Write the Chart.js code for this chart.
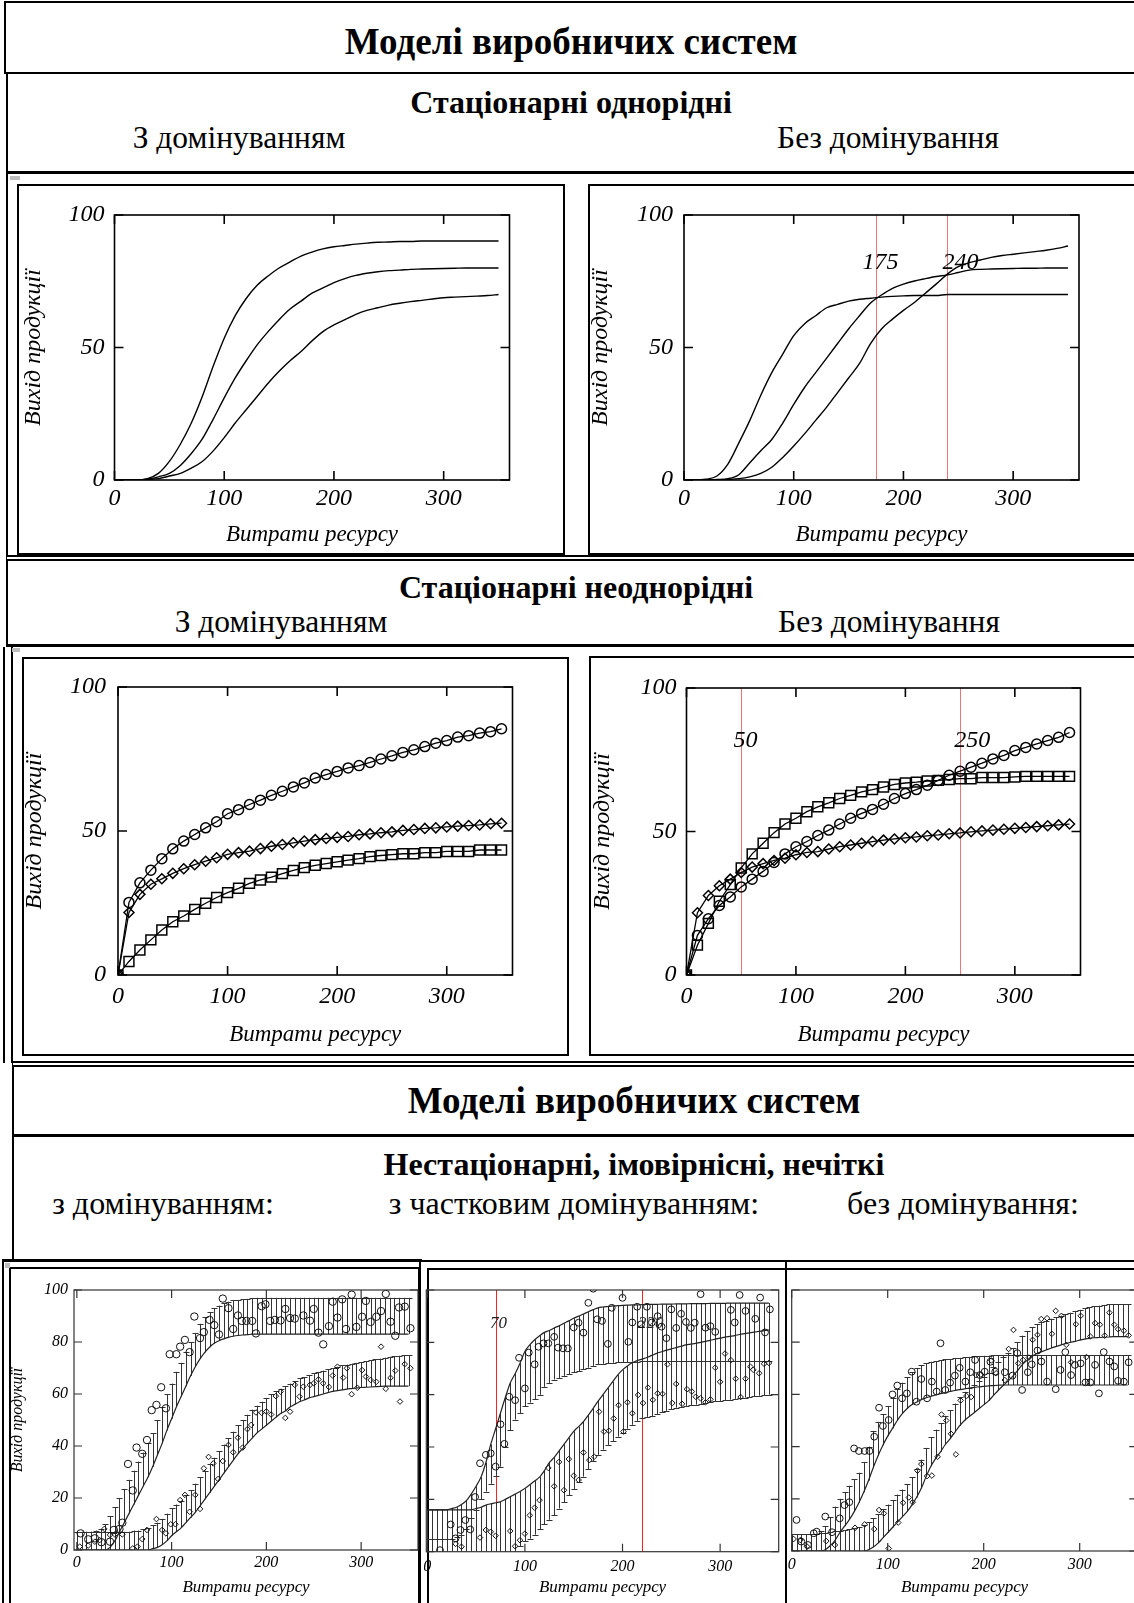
<!DOCTYPE html>
<html lang="uk">
<head>
<meta charset="utf-8">
<title>Моделі виробничих систем</title>
<script src="https://cdn.jsdelivr.net/npm/chart.js@4.4.0/dist/chart.umd.min.js"></script>
<style>
  html, body { margin: 0; padding: 0; width: 1134px; height: 1603px; overflow: hidden; background: #fff; }
  body { position: relative; font-family: 'Liberation Serif', 'Times New Roman', serif; color: #000; }
  .box { position: absolute; box-sizing: border-box; border: 0 solid #000; }
  .txt { position: absolute; white-space: nowrap; line-height: 1; transform: translateX(-50%); }
  .b { font-weight: bold; }
  .mark { position: absolute; background: #bdbdbd; }
  canvas { position: absolute; }
</style>
</head>
<body>

<!-- header frames -->
<div class="box" style="left:4px;top:1px;width:1200px;height:73px;border-width:2px;"></div>
<div class="box" style="left:6px;top:73px;width:1200px;height:101px;border-left-width:2px;border-bottom-width:3px;"></div>
<div class="box" style="left:6px;top:174px;width:4px;height:382px;border-left-width:2px;"></div>
<div class="box" style="left:17px;top:184px;width:548px;height:371px;border-width:2px;"></div>
<div class="box" style="left:588px;top:184px;width:600px;height:371px;border-width:2px;"></div>

<div class="box" style="left:6px;top:555px;width:1200px;height:92px;border-top:6px double #000;border-left-width:2px;border-bottom-width:3px;"></div>
<div class="box" style="left:3px;top:647px;width:10px;height:416px;border-left-width:2px;border-right-width:2px;"></div>
<div class="box" style="left:22px;top:657px;width:547px;height:399px;border-width:2px;"></div>
<div class="box" style="left:589px;top:656px;width:600px;height:400px;border-width:2px;"></div>

<div class="box" style="left:12px;top:1061px;width:1200px;height:76px;border-top:6px double #000;border-left-width:2px;border-bottom-width:3px;"></div>
<div class="box" style="left:12px;top:1137px;width:4px;height:123px;border-left-width:2px;"></div>

<div class="box" style="left:2px;top:1259px;width:420px;height:400px;border-top-width:3px;border-left-width:2px;"></div>
<div class="box" style="left:9px;top:1267px;width:411px;height:400px;border-top-width:2px;border-left-width:2px;border-right-width:2px;"></div>
<div class="box" style="left:419px;top:1260px;width:370px;height:400px;border-top-width:2px;border-left-width:2px;"></div>
<div class="box" style="left:427px;top:1268px;width:360px;height:400px;border-top-width:2px;border-left-width:2px;border-right-width:2px;"></div>
<div class="box" style="left:785px;top:1260px;width:400px;height:400px;border-top-width:2px;border-left-width:2px;"></div>
<div class="box" style="left:785px;top:1268px;width:400px;height:2px;border-top-width:2px;"></div>

<div class="mark" style="left:10px;top:176px;width:10px;height:4px;"></div>
<div class="mark" style="left:12px;top:648px;width:8px;height:4px;"></div>
<div class="mark" style="left:5px;top:1263px;width:5px;height:5px;"></div>

<!-- headings -->
<div class="txt b" style="left:571px;top:23px;font-size:37px;">Моделі виробничих систем</div>
<div class="txt b" style="left:571px;top:86px;font-size:32px;">Стаціонарні однорідні</div>
<div class="txt" style="left:239px;top:122px;font-size:31.5px;">З домінуванням</div>
<div class="txt" style="left:888px;top:122px;font-size:31.5px;">Без домінування</div>

<div class="txt b" style="left:576px;top:571px;font-size:32px;">Стаціонарні неоднорідні</div>
<div class="txt" style="left:281px;top:606px;font-size:31.5px;">З домінуванням</div>
<div class="txt" style="left:889px;top:606px;font-size:31.5px;">Без домінування</div>

<div class="txt b" style="left:634px;top:1082px;font-size:37px;">Моделі виробничих систем</div>
<div class="txt b" style="left:634px;top:1148px;font-size:32px;">Нестаціонарні, імовірнісні, нечіткі</div>
<div class="txt" style="left:163px;top:1187px;font-size:32px;">з домінуванням:</div>
<div class="txt" style="left:574px;top:1187px;font-size:32px;">з частковим домінуванням:</div>
<div class="txt" style="left:963px;top:1187px;font-size:32px;">без домінування:</div>

<canvas id="homDom" width="543" height="366" style="left:20px;top:186px;"></canvas>
<canvas id="homFree" width="551" height="366" style="left:586px;top:186px;"></canvas>
<canvas id="hetDom" width="549" height="396" style="left:20px;top:659px;"></canvas>
<canvas id="hetFree" width="550" height="396" style="left:588px;top:659px;"></canvas>
<canvas id="stochDom" width="418" height="335" style="left:4px;top:1268px;"></canvas>
<canvas id="stochPart" width="360" height="335" style="left:424px;top:1268px;"></canvas>
<canvas id="stochFree" width="360" height="335" style="left:788px;top:1268px;"></canvas>

<script>
const serif = "'Liberation Serif', 'Times New Roman', serif";
Chart.defaults.font.family = serif;
Chart.defaults.color = '#000';

// ---- stationary homogeneous: resource spent vs output ----
const resX = [0,10,20,30,40,50,60,70,80,90,100,110,120,130,140,150,160,170,180,190,200,210,220,230,240,250,260,270,280,290,300,310,320,330,340,350];

const homDomHigh = [0,0,0,0.5,2.5,7,13.5,21.5,31.5,43,53.5,62,68.5,73.5,77,80,82.3,84.5,86,87.2,88,88.5,89,89.4,89.7,89.8,90,90,90.2,90.2,90.2,90.2,90.2,90.2,90.2,90.2];
const homDomMid  = [0,0,0,0.3,1.2,2.5,5.5,10,15.5,23,31,38.5,45,51,56,60.5,64.5,67.5,70.5,72.5,74.5,76,77.2,78,78.6,79,79.2,79.5,79.6,79.7,79.8,79.9,80,80,80,80];
const homDomLow  = [0,0,0,0.2,0.5,1.5,2.5,4.5,7,11,16,21.5,26.5,31.5,36.5,41,45,48.5,52.5,56,58.5,60.5,62.5,64,65,66,66.7,67.3,67.8,68.3,68.8,69,69.2,69.4,69.6,70];

const homFreeFast = [0,0,0.3,1.5,6,14,22.5,32,40.5,47.5,54.5,59,62,65,66.3,67.5,68.2,68.6,69,69.3,69.5,69.6,69.6,69.6,70,70,70,70,70,70,70,70,70,70,70,70];
const homFreeMid  = [0,0,0,0.2,0.5,2,6.5,11,15.3,21.5,28.5,35,40.5,46,51.5,57,62,66.8,69.8,72.3,73.9,75.1,76,76.8,77.4,78.3,79.2,79.5,79.6,79.7,79.8,79.9,79.9,80,80,80];
const homFreeSlow = [0,0,0,0,0.2,0.5,1.2,2.5,4.8,8.5,12.8,17.5,22.5,27.5,33,38.5,44,51.5,57,60.7,64,67,70.5,74,77.7,80.5,82,83,84,84.7,85.2,85.7,86.2,86.7,87.4,88.3];
const homFreeCross = [175, 240];
const homFreeLabelX = [179, 252];
const homFreeLabelY = 82;

// ---- stationary heterogeneous ----
const hetDomCircle  = [0,25.2,32,36.4,40.4,43.8,46.5,48.8,51.1,53.2,56,57.4,59.2,60.7,62.4,63.8,65.3,66.7,68.4,69.6,70.7,71.9,72.7,73.8,75,76.1,77.3,78.2,79.3,80.5,81.4,82.6,83.1,84,84.5,85.5];
const hetDomDiamond = [0,21.7,28,31.5,33.4,35.3,36.9,38.3,39.5,40.7,41.9,42.5,43,43.9,44.7,45.3,45.9,46.5,47,47.4,47.8,48.1,48.7,49,49.4,49.7,50.2,50.5,50.9,51.1,51.4,51.7,51.9,52.1,52.5,52.7];
const hetDomSquare  = [0,4.7,8.7,12.2,15.6,18.5,20.5,22.8,24.9,26.9,28.6,30.1,31.8,33,34,35.2,36.3,37.3,38.1,38.7,39.3,39.9,40.4,41.1,41.5,41.8,42.1,42.1,42.5,42.5,42.9,42.9,42.9,43.4,43.4,43.4];

const hetFreeCircle  = [0,13.8,19.6,24.2,27.2,30.7,33.4,36.1,39.2,42.2,44.7,46.5,48.6,50.5,52.6,54.6,56.3,57.7,59.5,61.5,63.2,64.6,66.1,67.8,69.6,71,72.4,73.8,75.3,76.5,78.2,79.3,80.5,81.7,82.8,84.5];
const hetFreeSquare  = [0,10.4,18,25.7,31.5,37.3,42.2,45.9,49.6,52.6,54.6,56.9,58.6,60,61.5,62.6,63.8,64.6,65.5,66.4,66.9,67.2,67.6,67.8,68.1,68.4,68.4,68.8,68.8,68.8,69,69.2,69.2,69.2,69.2,69.2];
const hetFreeDiamond = [0,21.7,27.7,31.1,33.4,35.7,37.6,38.8,39.9,40.7,41.9,42.7,43,43.9,44.7,45.3,45.9,46.5,47,47.4,47.8,48.1,48.5,48.8,49.2,49.5,49.9,50.2,50.5,50.8,51.1,51.4,51.7,52,52.3,52.6];
const hetFreeCross = [50, 250];
const hetFreeLabelX = [54, 261];
const hetFreeLabelY = 81.7;

// ---- non-stationary / fuzzy: confidence bands and observations ----
const bandX = [0,5,10,15,20,25,30,35,40,45,50,55,60,65,70,75,80,85,90,95,100,105,110,115,120,125,130,135,140,145,150,155,160,165,170,175,180,185,190,195,200,205,210,215,220,225,230,235,240,245,250,255,260,265,270,275,280,285,290,295,300,305,310,315,320,325,330,335,340,345,350];

const domBand1Hi = [7,7,7,7,7.5,8,10,13,16.5,20,23.5,27,30.5,34,37.5,41,45,50,55,60,64,68.5,72,76,80,83.5,87,89.5,91.5,93,94,95,95.5,96,96.2,96.5,96.6,96.8,97,97,97,97,97,97,97,97,97,97,97,97,97,97,97,97,97,97,97,97,97,97,97,97,97,97,97,97,97,97,97,97,97];
const domBand1Lo = [0,0,0,0,0,0,0,1,3.5,7,10.5,14,17.5,21,24.5,28,32,36.5,41,46,50.5,55,59,63,67,70.5,73.5,76,78,79.5,80.5,81.2,81.8,82.2,82.5,82.7,82.8,83,83,83,83,83,83,83,83,83,83,83,83,83,83,83,83,83,83,83,83,83,83,83,83,83,83,83,83,83,83,83,83,83,83];
const domBand2Hi = [7,7,7,7,7,7,7,7,7,7,7,7,7.5,7.5,8,8.5,9.5,10.5,12,14,16,17.5,19,21,23,25.5,28,30.5,33,35.5,38,40.5,43,45.5,48,50,52,54,55.5,57,58.5,60,61,62,63,64,65,66,66.5,67.3,68,68.5,69,69.5,70,70.5,71,71.3,71.7,72,72.3,72.6,73,73.3,73.6,74,74.3,74.5,74.7,74.9,75];
const domBand2Lo = [0,0,0,0,0,0,0,0,0,0,0,0,0,0,0,0,0.5,1,2,3.5,5.5,7,8.5,10.5,12.5,14.5,17,19.5,22,24.5,27,29.5,32,34.5,37,39,41,43,45,46.5,48,49.5,51,52.5,53.5,55,56,57,57.7,58.5,59,59.5,60,60.5,61,61.3,61.6,61.9,62.1,62.3,62.5,62.6,62.7,62.8,62.9,63,63,63,63,63,63];

const domCircleX = [4,12,19,26,35,39,45,48,54,59,63,69,74,79,84,89,94,98,105,109,114,119,124,130,134,140,145,150,154,160,165,170,174,179,185,189,195,199,204,209,215,220,225,230,239,246,250,255,260,266,270,275,280,284,290,295,301,305,310,316,321,326,331,336,340,346,352];
const domCircleY = [6.4,4.1,4.5,3,3.2,7.7,8.1,10.5,33.1,22.9,39.4,37,42.3,53.8,55.8,62.6,54.5,75.3,75.3,78.2,80.8,76.1,89.8,81.5,83.8,88.5,86.5,82.9,96.7,93,85,90.2,88.1,88.1,88.1,83.3,93.8,94.5,88.1,88.5,88.3,92.7,89.2,89,90.2,88.2,92.7,83.6,79.1,86.1,95.5,89.4,96.4,85,98.2,85.8,89.7,95.8,87.7,89.7,91.9,98.5,87.8,82.4,93.3,93.6,85.3];
const domDiamondX = [3,12,19,24,29,35,40,48,59,64,69,74,84,90,94,99,104,109,114,119,125,130,134,139,144,149,154,160,165,170,175,180,184,189,195,200,205,210,215,220,225,230,235,239,246,250,255,260,266,270,275,281,285,290,296,301,305,310,316,321,326,331,336,341,346,352];
const domDiamondY = [1.3,1.7,3.2,3.8,8.1,5.8,6,6,0.6,1.3,4.2,7.7,11.9,7.7,6.4,9.9,9.9,19.2,21.2,14.7,21.2,15.8,31.4,35.8,33.3,27.3,34.2,40.4,37.6,43.2,39.4,46.5,48.1,52.9,52.8,53.3,52.1,59.2,60.9,50.8,53.2,63.5,59,62.8,63.5,64.1,65.6,64.1,62.7,67.1,70.5,66.3,69.9,59.9,62.4,69.2,66.7,65.4,64.7,78.2,62,66.2,69,57.1,71.5,69.9];

const partBand1Hi = [16,16,16,16,16,16.5,17,18,19.5,22,25,28.5,34,41,47,53,59,64.5,68,72,76.5,79,81,82.5,83.8,84.5,85.5,86.3,87.3,88.2,89.2,90,90.8,91.7,92.5,93.2,93.5,93.7,93.9,94,94.1,94.2,94.3,94.3,94.4,94.5,94.5,94.5,94.6,94.6,94.6,94.7,94.7,94.7,94.8,94.8,94.8,94.8,94.9,94.9,94.9,94.9,95,95,95,95,95,95,95,95,95];
const partBand1Lo = [5,5,5,5,5,5,5.5,6.5,8.5,13,16,20,23,26,29,32.5,40,46.5,50.5,53,55.5,57,58.3,60,63,64.5,65.8,66.4,67.2,67.8,68.5,69,69.7,70.3,71,71.6,71.8,72,72.2,72.3,72.4,72.5,72.6,72.6,72.7,72.7,72.7,72.8,72.8,72.8,72.8,72.8,72.9,72.9,72.9,72.9,72.9,72.9,72.9,72.9,72.9,72.9,72.9,72.9,72.9,72.9,72.9,72.9,72.9,72.9,72.9];
const partBand2Hi = [16,16,16,16,16,16,16,16,16,16,16.5,17,17.8,18.3,18.7,19.1,20,21,22,23,24.2,25.6,27,28.5,31,34,36,38.5,41,43.5,46,47.8,49.7,52.2,54.8,57.5,60,62.5,65,67.5,69.5,71,72.2,73,73.6,74.2,75,75.8,76.4,77,77.5,78,78.5,79,79.3,79.6,80,80.4,80.8,81.2,81.6,82,82.3,82.6,83,83.3,83.6,83.9,84.2,84.5,84.7];
const partBand2Lo = [0,0,0,0,0,0,0,0,0,0,0,0,0,0,0,0,0,0,0,2,4,5,6.5,8.5,10.5,12.2,14,16.5,19,21.5,24,26.5,28.7,31.5,34.5,37,39,40.8,42.3,44,45.3,47,48.5,50,51,51.5,51.8,52.5,53.2,53.8,54.4,55,55.4,55.7,56,56.2,56.5,56.8,57.1,57.4,57.6,57.9,58.1,58.4,58.6,58.9,59.1,59.4,59.6,59.8,60];

const partCircleX = [13,24,29,34,39,44,49,54,60,65,70,75,79,84,90,94,100,104,110,114,119,124,130,134,139,144,150,155,160,165,170,174,179,185,189,200,206,210,215,219,225,230,236,240,245,250,255,260,265,270,274,280,285,290,295,311,315,320,326,336,341,346,351];
const partCircleY = [0.6,10.4,5.1,8.3,12.1,8.5,20.9,33.8,37,37.6,32.5,48.7,41.2,59.2,57.9,74.1,62.4,76.1,71.6,78.3,79.6,79.6,82.1,78,77.7,77.7,85.7,87.5,83.7,95.1,100.5,88.8,88.2,79.4,93.2,97,80.2,87.6,93.6,86.9,93.6,87.6,90,86,81.6,92.6,85.5,90.9,87.8,85.5,87.5,98.4,85.6,86.2,84,92.4,87.6,98.1,92,89,97.1,83.8,92.6];
const partDiamondX = [29,35,54,60,65,70,85,90,95,100,105,110,115,124,130,135,140,145,150,155,160,166,171,176,181,186,191,196,201,205,210,216,221,226,231,236,241,246,251,255,261,266,271,275,280,285,290,295,300,305,311,316,321,326,331,334,340,345,350];
const partDiamondY = [3,1.9,5.4,8.3,7.6,6.1,7.9,2.1,4.4,6.9,13.9,16.8,19.7,32,25,34.3,23.5,35.4,29,27.4,37.9,35,36.3,53.5,45.9,46.2,50.9,56,45.9,57.1,52.9,59.9,56.8,62.7,58,60.5,60.3,71.6,56.8,64.1,56.5,62.1,61.2,59.2,58.6,57.1,58.2,70.3,64.9,75.7,73.2,66.1,59.1,66.1,70.7,69.5,68.2,71.8,72.1];
const partCross = [70, 220];
const partLabelX = [73, 229];
const partLabelY = 87;

const freeBand1Hi = [6.4,6.4,6.4,6.4,6.4,6.5,7.5,9.5,13,17,20,22.5,25,27.5,30,34,40,46,49.5,52.5,55.5,58.5,62,64.5,66.5,68.5,70,71.2,72,72.5,72.8,73.1,73.4,73.6,73.8,74,74.2,74.4,74.6,74.7,74.8,74.9,75,75,75,75,75,75,75,75,75,75,75,75,75,75,75,75,75,75,75,75,75,75,75,75,75,75,75,75,75];
const freeBand1Lo = [0,0,0,0,0,0,0,0.5,2,4,7,9.5,12,15,18.5,22.5,27,32,36.5,40.5,44,47,50,52.5,54.5,56,57,58,58.7,59.3,59.8,60.3,60.7,61.1,61.5,61.8,62.1,62.4,62.7,62.9,63.1,63.3,63.4,63.5,63.6,63.6,63.6,63.6,63.6,63.6,63.6,63.6,63.6,63.6,63.6,63.6,63.6,63.6,63.6,63.6,63.6,63.6,63.6,63.6,63.6,63.6,63.6,63.6,63.6,63.6,63.6];
const freeBand2Hi = [6.4,6.4,6.4,6.5,6.5,6.6,6.8,7,7.2,7.5,7.8,8,8.3,8.7,9.2,10,11,12.5,14,16,17.8,19.5,21.6,23.5,25.5,28.3,31.5,35,39.5,43.5,46.5,49,51.8,54,56.5,59,61,62.3,63.7,65,66.7,68.3,70.5,72.5,74.3,76,77.8,80,82.5,84.3,85.8,87,87.6,88.3,89,89.6,90.2,90.8,91.3,91.8,92.4,93,93.4,93.7,94,94.3,94.5,94.5,94.5,94.5,94.5];
const freeBand2Lo = [0,0,0,0,0,0,0,0,0,0,0,0,0,0,0,0,0.5,1.5,3,5,7,9,11,13,15,17.5,20.5,24,28.5,32.5,35.5,38,40.8,43,45.5,48,50,51.5,53,54.5,56,57.5,59.5,61.5,63.3,65,66.8,69,71.3,73,74.5,75.6,76.3,77,77.7,78.3,78.9,79.4,79.9,80.3,80.8,81.2,81.5,81.7,81.8,81.9,82,82.1,82.1,82.1,82.1];

const freeCircleX = [5,10,17,23,26,35,42,50,55,60,65,70,76,81,86,91,95,101,105,110,115,120,125,130,135,141,146,151,155,160,165,170,175,181,186,191,196,201,207,212,222,230,235,240,246,250,256,260,266,275,280,285,291,295,301,306,311,316,320,325,331,336,340,346,351];
const freeCircleY = [11.9,3.6,2.3,6.8,7.4,13.2,7.2,12.5,17.6,18.7,39.3,38.3,38.3,38.3,43.8,54.9,47.9,50.2,60,63.4,58.5,60.4,68.7,57.2,65.9,58.5,64.9,61.1,79.6,61.7,64.5,67.2,70.2,64.9,68.5,73.2,67.4,68.7,72.5,68.7,68.5,67.2,75.8,61.7,68.5,71.5,76.8,72.6,64.9,62,69.4,76.2,67.4,71.3,71.9,64.6,64.6,71.3,60.4,76.2,72.6,70.7,65.2,64.9,72.3];
const freeDiamondX = [2,9,16,36,45,66,76,86,91,96,101,111,116,122,126,131,135,141,146,152,156,161,166,171,176,182,187,192,197,208,213,222,226,231,236,241,247,251,256,260,266,271,275,281,286,291,296,301,307,311,316,321,326,331,336,340,346,351];
const freeDiamondY = [4.6,4.2,1.7,3.8,2.3,8.9,10.2,8.4,15.7,14.4,1,10.9,18.5,20.5,18.7,30.8,33.3,28.7,28.9,36.1,52.3,50,44.9,37,57.7,59.4,59,67.4,67.6,73,68.1,65.5,77.4,84.7,71.9,73.2,74.1,80.9,82.8,88.9,89.2,83.2,92,90.1,79,72.3,86.9,90.1,74.3,82.2,87.3,86.7,82.5,91.3,86.7,85,84.4,82.6];

// ---- plugins ----

// vertical marker lines with their value written near the top
const guidePlugin = {
  id: 'guides',
  beforeDatasetsDraw(chart, args, opts) {
    if (!opts || !opts.at) return;
    const { ctx, chartArea: a, scales: { x, y } } = chart;
    ctx.save();
    ctx.strokeStyle = opts.color;
    ctx.lineWidth = 1;
    opts.at.forEach(v => {
      const px = Math.round(x.getPixelForValue(v)) + 0.5;
      ctx.beginPath();
      ctx.moveTo(px, a.top);
      ctx.lineTo(px, a.bottom);
      ctx.stroke();
    });
    ctx.fillStyle = opts.textColor;
    ctx.font = opts.font;
    ctx.textAlign = 'center';
    ctx.textBaseline = 'middle';
    opts.at.forEach((v, i) => {
      ctx.fillText(String(v), x.getPixelForValue(opts.labelX[i]), y.getPixelForValue(opts.labelY));
    });
    ctx.restore();
  }
};

// error bars between lower and upper band values, capped on one side
const bandPlugin = {
  id: 'bands',
  beforeDatasetsDraw(chart, args, opts) {
    if (!opts || !opts.list) return;
    const { ctx, chartArea: a, scales: { x, y } } = chart;
    ctx.save();
    ctx.beginPath();
    ctx.rect(a.left, a.top, a.right - a.left, a.bottom - a.top);
    ctx.clip();
    ctx.strokeStyle = opts.color;
    ctx.lineWidth = 1;
    ctx.beginPath();
    opts.list.forEach(b => {
      b.x.forEach((v, i) => {
        const px = Math.round(x.getPixelForValue(v)) + 0.5;
        const lo = y.getPixelForValue(b.lo[i]);
        const hi = y.getPixelForValue(b.hi[i]);
        ctx.moveTo(px, lo);
        ctx.lineTo(px, hi);
        const cy = Math.round(b.cap === 'lo' ? lo : hi) + 0.5;
        ctx.moveTo(px - opts.cap, cy);
        ctx.lineTo(px + opts.cap, cy);
      });
    });
    ctx.stroke();
    ctx.restore();
  }
};

// plot box with inward tick marks on all four sides
const framePlugin = {
  id: 'frame',
  afterDatasetsDraw(chart, args, o) {
    if (!o || !o.len) return;
    const { ctx, chartArea: a, scales: { x, y } } = chart;
    ctx.save();
    ctx.strokeStyle = o.color;
    ctx.lineWidth = o.width;
    ctx.strokeRect(a.left, a.top, a.right - a.left, a.bottom - a.top);
    ctx.beginPath();
    x.ticks.forEach(t => {
      const px = x.getPixelForValue(t.value);
      ctx.moveTo(px, a.top); ctx.lineTo(px, a.top + o.len);
      ctx.moveTo(px, a.bottom); ctx.lineTo(px, a.bottom - o.len);
    });
    y.ticks.forEach(t => {
      const py = y.getPixelForValue(t.value);
      ctx.moveTo(a.left, py); ctx.lineTo(a.left + o.len, py);
      ctx.moveTo(a.right, py); ctx.lineTo(a.right - o.len, py);
    });
    ctx.stroke();
    ctx.restore();
  }
};

Chart.register(guidePlugin, bandPlugin, framePlugin);

// ---- helpers ----
function pts(xs, ys) {
  return xs.map((x, i) => ({ x, y: ys[i] }));
}

function curve(xs, ys) {
  return { data: pts(xs, ys), showLine: true, borderColor: '#000', borderWidth: 1.4,
           pointRadius: 0, cubicInterpolationMode: 'monotone' };
}

function marked(xs, ys, style, r) {
  return { data: pts(xs, ys), showLine: true, borderColor: '#000', borderWidth: 1.3,
           pointStyle: style, pointRadius: r, pointBorderWidth: 1.5,
           pointBorderColor: '#000', pointBackgroundColor: 'rgba(0,0,0,0)' };
}

function dots(xs, ys, style, r) {
  return { data: pts(xs, ys), showLine: false, pointStyle: style, pointRadius: r,
           pointBorderWidth: 1, pointBorderColor: '#111', pointBackgroundColor: 'rgba(0,0,0,0)' };
}

function edge(xs, ys) {
  return { data: pts(xs, ys), showLine: true, borderColor: '#222', borderWidth: 1.2,
           pointRadius: 0, cubicInterpolationMode: 'monotone' };
}

function plotOptions(c) {
  return {
    responsive: false,
    animation: false,
    devicePixelRatio: 1,
    events: [],
    layout: { autoPadding: false, padding: { top: c.top, right: c.right, bottom: 0, left: 0 } },
    plugins: {
      legend: { display: false },
      tooltip: { enabled: false },
      frame: c.frame,
      guides: c.guides || {},
      bands: c.bands || {}
    },
    scales: {
      x: {
        type: 'linear', min: c.xMin, max: c.xMax,
        grid: { display: false, drawTicks: false },
        border: { display: false },
        afterBuildTicks: s => { s.ticks = c.xTicks.map(v => ({ value: v })); },
        afterFit: s => { s.height = c.xSize; s.paddingLeft = 0; s.paddingRight = 0; },
        ticks: { padding: c.xPad, maxRotation: 0, autoSkip: false, color: '#000',
                 font: { family: serif, size: c.tickSize, style: 'italic' } },
        title: { display: true, text: 'Витрати ресурсу', color: '#000',
                 font: { family: serif, size: c.xTitleSize, style: 'italic' },
                 padding: { top: 0, bottom: c.xTitlePad } }
      },
      y: {
        type: 'linear', min: 0, max: 100,
        grid: { display: false, drawTicks: false },
        border: { display: false },
        afterBuildTicks: s => { s.ticks = c.yTicks.map(v => ({ value: v })); },
        afterFit: s => { s.width = c.ySize; s.paddingTop = 0; s.paddingBottom = 0; },
        ticks: { display: c.yLabels, padding: c.yPad, color: '#000',
                 font: { family: serif, size: c.tickSize, style: 'italic' } },
        title: { display: c.yTitle, text: 'Вихід продукції', color: '#000',
                 font: { family: serif, size: c.yTitleSize, style: 'italic' },
                 padding: { top: c.yTitlePad, bottom: 0 } }
      }
    }
  };
}

const bigFrame = { color: '#000', width: 1.6, len: 9 };
const smallFrame = { color: '#333', width: 1.2, len: 8 };
const big = { tickSize: 24, xTitleSize: 23, yTitleSize: 24, xMin: 0, xMax: 360,
              xTicks: [0, 100, 200, 300], yTicks: [0, 50, 100],
              yLabels: true, yTitle: true, frame: bigFrame };
const small = { tickSize: 16, xTitleSize: 17, yTitleSize: 16,
                xTicks: [0, 100, 200, 300], yTicks: [0, 20, 40, 60, 80, 100], frame: smallFrame };

// ---- row 1 ----
new Chart(document.getElementById('homDom'), {
  type: 'scatter',
  data: { datasets: [curve(resX, homDomHigh), curve(resX, homDomMid), curve(resX, homDomLow)] },
  options: plotOptions({ ...big, top: 29, right: 53.5, xSize: 72, ySize: 94.5,
                         xPad: 4.5, yPad: 10, xTitlePad: 3, yTitlePad: -1 })
});

new Chart(document.getElementById('homFree'), {
  type: 'scatter',
  data: { datasets: [curve(resX, homFreeFast), curve(resX, homFreeMid), curve(resX, homFreeSlow)] },
  options: plotOptions({ ...big, top: 29, right: 58, xSize: 72, ySize: 98,
                         xPad: 4.5, yPad: 11, xTitlePad: 3, yTitlePad: 0,
                         guides: { at: homFreeCross, labelX: homFreeLabelX, labelY: homFreeLabelY,
                                   color: 'rgba(235,70,70,0.75)', textColor: '#000',
                                   font: 'italic 24px ' + serif } })
});

// ---- row 2 ----
new Chart(document.getElementById('hetDom'), {
  type: 'scatter',
  data: { datasets: [marked(resX, hetDomCircle, 'circle', 5),
                     marked(resX, hetDomDiamond, 'rectRot', 5),
                     marked(resX, hetDomSquare, 'rect', 7)] },
  options: plotOptions({ ...big, top: 28, right: 56.5, xSize: 80, ySize: 98,
                         xPad: 7, yPad: 12, xTitlePad: 6, yTitlePad: 0.5 })
});

new Chart(document.getElementById('hetFree'), {
  type: 'scatter',
  data: { datasets: [marked(resX, hetFreeCircle, 'circle', 5),
                     marked(resX, hetFreeSquare, 'rect', 7),
                     marked(resX, hetFreeDiamond, 'rectRot', 5)] },
  options: plotOptions({ ...big, top: 29, right: 57.5, xSize: 80, ySize: 98.5,
                         xPad: 7, yPad: 10, xTitlePad: 6, yTitlePad: 0.5,
                         guides: { at: hetFreeCross, labelX: hetFreeLabelX, labelY: hetFreeLabelY,
                                   color: 'rgba(235,70,70,0.75)', textColor: '#000',
                                   font: 'italic 24px ' + serif } })
});

// ---- row 3 ----
new Chart(document.getElementById('stochDom'), {
  type: 'scatter',
  data: { datasets: [edge(bandX, domBand1Lo), edge(bandX, domBand2Lo),
                     dots(domCircleX, domCircleY, 'circle', 3.7),
                     dots(domDiamondX, domDiamondY, 'rectRot', 2.8)] },
  options: plotOptions({ ...small, xMin: -3, xMax: 360, top: 22, right: 4, xSize: 53, ySize: 70,
                         yLabels: true, yTitle: true, xPad: 3, yPad: 6, xTitlePad: 5, yTitlePad: 4.4,
                         bands: { color: '#333', cap: 3, list: [
                           { x: bandX, lo: domBand1Lo, hi: domBand1Hi, cap: 'hi' },
                           { x: bandX, lo: domBand2Lo, hi: domBand2Hi, cap: 'hi' }] } })
});

new Chart(document.getElementById('stochPart'), {
  type: 'scatter',
  data: { datasets: [edge(bandX, partBand1Hi), edge(bandX, partBand2Hi),
                     dots(partCircleX, partCircleY, 'circle', 3.4),
                     dots(partDiamondX, partDiamondY, 'rectRot', 2.8)] },
  options: plotOptions({ ...small, xMin: -1, xMax: 360, top: 22, right: 5.3, xSize: 51.3, ySize: 2.3,
                         yLabels: false, yTitle: false, xPad: 5, yPad: 0, xTitlePad: 5, yTitlePad: 0,
                         guides: { at: partCross, labelX: partLabelX, labelY: partLabelY,
                                   color: '#ff2020', textColor: '#222',
                                   font: 'italic 17px ' + serif },
                         bands: { color: '#333', cap: 3, list: [
                           { x: bandX, lo: partBand1Lo, hi: partBand1Hi, cap: 'lo' },
                           { x: bandX, lo: partBand2Lo, hi: partBand2Hi, cap: 'lo' }] } })
});

new Chart(document.getElementById('stochFree'), {
  type: 'scatter',
  data: { datasets: [edge(bandX, freeBand1Lo), edge(bandX, freeBand2Lo),
                     dots(freeCircleX, freeCircleY, 'circle', 3.4),
                     dots(freeDiamondX, freeDiamondY, 'rectRot', 2.8)] },
  options: plotOptions({ ...small, xMin: 0, xMax: 360, top: 22, right: 10.7, xSize: 52, ySize: 3.7,
                         yLabels: false, yTitle: false, xPad: 4, yPad: 0, xTitlePad: 5, yTitlePad: 0,
                         bands: { color: '#333', cap: 3, list: [
                           { x: bandX, lo: freeBand1Lo, hi: freeBand1Hi, cap: 'hi' },
                           { x: bandX, lo: freeBand2Lo, hi: freeBand2Hi, cap: 'hi' }] } })
});
</script>
</body>
</html>
